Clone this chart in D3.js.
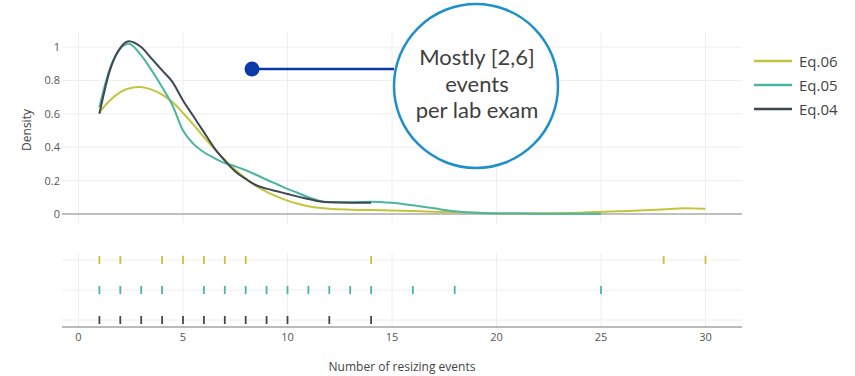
<!DOCTYPE html>
<html><head><meta charset="utf-8">
<script src="https://cdn.jsdelivr.net/npm/d3@7"></script>
<style>body{margin:0;background:#fff}svg{display:block}</style>
</head><body>
<svg id="c" width="855" height="376"></svg>
<script>
const seriesNames = ["Eq.06", "Eq.05", "Eq.04"];
const seriesColors = ["#c4c43c", "#4bb5a2", "#3f4852"];
const yTicks = [0, 0.2, 0.4, 0.6, 0.8, 1];
const xTicks = [0, 5, 10, 15, 20, 25, 30];

// density curves [x, density]
const densEq06 = [[1,0.61],[1.5,0.68],[2,0.73],[2.5,0.755],[2.9,0.76],[3.5,0.745],[4,0.715],[4.5,0.67],[5,0.605],[5.5,0.535],[6,0.46],[6.5,0.39],[7,0.325],[7.5,0.265],[8,0.212],[8.5,0.168],[9,0.132],[9.5,0.104],[10,0.08],[10.5,0.061],[11,0.047],[11.5,0.037],[12,0.031],[13,0.026],[14,0.024],[16,0.018],[18,0.01],[20,0.005],[22,0.004],[24,0.008],[26,0.017],[28,0.028],[29,0.034],[30,0.031]];
const densEq05 = [[1,0.64],[1.5,0.87],[2,0.99],[2.4,1.02],[3,0.95],[3.5,0.86],[4,0.76],[4.5,0.65],[5,0.5],[5.5,0.42],[6,0.37],[6.5,0.335],[7,0.305],[7.5,0.285],[8,0.262],[8.5,0.235],[9,0.205],[9.5,0.178],[10,0.15],[10.5,0.126],[11,0.1],[11.5,0.08],[12,0.072],[13,0.07],[14,0.074],[15,0.067],[16,0.052],[17,0.034],[18,0.017],[19,0.007],[20,0.003],[22,0.002],[25,0.001]];
const densEq04 = [[1,0.6],[1.5,0.86],[2,0.995],[2.4,1.035],[3,1.0],[3.5,0.93],[4,0.86],[4.5,0.79],[5,0.68],[5.5,0.585],[6,0.49],[6.5,0.395],[7,0.32],[7.5,0.255],[8,0.21],[8.5,0.172],[9,0.152],[9.5,0.136],[10,0.12],[10.5,0.104],[11,0.09],[11.5,0.076],[12,0.07],[13,0.068],[14,0.068]];

// rug values
const rugEq06 = [1,2,4,5,6,7,8,14,28,30];
const rugEq05 = [1,2,3,4,6,7,8,9,10,11,12,13,14,16,18,25];
const rugEq04 = [1,2,3,4,5,6,7,8,9,10,12,14];

const annotationLines = ["Mostly [2,6]", "events", "per lab exam"];
const xTitle = "Number of resizing events";
const yTitle = "Density";

const dens = [densEq06, densEq05, densEq04];
const rugs = [rugEq06, rugEq05, rugEq04];

const svg = d3.select("#c");
const font = "'Open Sans', sans-serif";
const x = d3.scaleLinear().domain([0,30]).range([78.5,705.5]);
const y = d3.scaleLinear().domain([0,1]).range([214,47]);
const rowY = d3.scalePoint().domain(seriesNames).range([260,320]);
const L = 62, R = 742;

// grid
const g = svg.append("g");
xTicks.forEach(t => {
  g.append("line").attr("x1", x(t)).attr("x2", x(t)).attr("y1", 32).attr("y2", 223).attr("stroke", "#eeeeee").attr("stroke-width", 1);
  g.append("line").attr("x1", x(t)).attr("x2", x(t)).attr("y1", 253).attr("y2", 327).attr("stroke", "#eeeeee").attr("stroke-width", 1);
});
yTicks.filter(t => t > 0).forEach(t => {
  g.append("line").attr("x1", L).attr("x2", R).attr("y1", y(t)).attr("y2", y(t)).attr("stroke", "#eeeeee");
});
seriesNames.forEach(n => {
  g.append("line").attr("x1", L).attr("x2", R).attr("y1", rowY(n)).attr("y2", rowY(n)).attr("stroke", "#eeeeee");
});
g.append("line").attr("x1", L).attr("x2", R).attr("y1", y(0)).attr("y2", y(0)).attr("stroke", "#aaaaaa").attr("stroke-width", 1.5);
g.append("line").attr("x1", L).attr("x2", R).attr("y1", 327).attr("y2", 327).attr("stroke", "#777").attr("stroke-width", 1.2);

// y tick labels
yTicks.forEach(t => {
  svg.append("text").attr("x", 60).attr("y", y(t) + 4).attr("text-anchor", "end")
    .attr("font-family", font).attr("font-size", 11).attr("fill", "#555").text(t);
});
// x tick labels
xTicks.forEach(t => {
  svg.append("text").attr("x", x(t)).attr("y", 341).attr("text-anchor", "middle")
    .attr("font-family", font).attr("font-size", 11).attr("fill", "#555").text(t);
});
svg.append("text").attr("x", 402).attr("y", 371).attr("text-anchor", "middle")
  .attr("font-family", font).attr("font-size", 12).attr("fill", "#444").text(xTitle);
svg.append("text").attr("transform", "translate(31,130) rotate(-90)").attr("text-anchor", "middle")
  .attr("font-family", font).attr("font-size", 12).attr("fill", "#444").text(yTitle);

// curves
const line = d3.line().x(d => x(d[0])).y(d => y(d[1])).curve(d3.curveMonotoneX);
dens.forEach((d, i) => {
  svg.append("path").attr("d", line(d)).attr("fill", "none").attr("stroke", seriesColors[i]).attr("stroke-width", 2);
});

// rug ticks
rugs.forEach((r, i) => {
  const yy = rowY(seriesNames[i]);
  r.forEach(v => {
    svg.append("line").attr("x1", x(v)).attr("x2", x(v)).attr("y1", yy - 4).attr("y2", yy + 4)
      .attr("stroke", seriesColors[i]).attr("stroke-width", 1.8);
  });
});

// legend
seriesNames.forEach((n, i) => {
  const ly = 61 + i * 24;
  svg.append("line").attr("x1", 754).attr("x2", 792).attr("y1", ly).attr("y2", ly).attr("stroke", seriesColors[i]).attr("stroke-width", 2.5);
  svg.append("text").attr("x", 799).attr("y", ly + 5.5).attr("font-family", font).attr("font-size", 15).attr("fill", "#444").text(n);
});

// annotation
svg.append("line").attr("x1", 252).attr("x2", 394).attr("y1", 69).attr("y2", 69).attr("stroke", "#0a3aa8").attr("stroke-width", 2.5);
svg.append("circle").attr("cx", 252).attr("cy", 69).attr("r", 7.5).attr("fill", "#0a3aa8");
svg.append("circle").attr("cx", 476).attr("cy", 86).attr("r", 82).attr("fill", "#fff").attr("stroke", "#1e8fcb").attr("stroke-width", 2.5);
annotationLines.forEach((t, i) => {
  svg.append("text").attr("x", 477).attr("y", 65 + i * 26.5).attr("text-anchor", "middle")
    .attr("font-family", "Lato, sans-serif").attr("font-size", 22).attr("fill", "#404040").text(t);
});
</script>
</body></html>
